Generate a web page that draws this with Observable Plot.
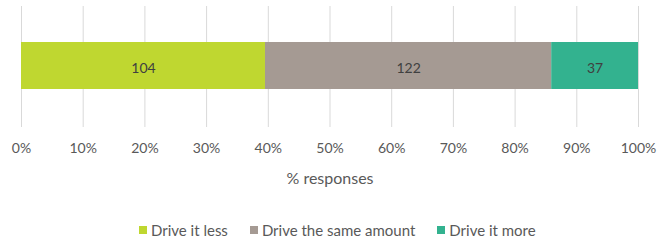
<!DOCTYPE html>
<html>
<head>
<meta charset="utf-8">
<script src="https://cdn.jsdelivr.net/npm/d3@7"></script>
<script src="https://cdn.jsdelivr.net/npm/@observablehq/plot@0.6"></script>
<style>
  html, body { margin: 0; padding: 0; background: #fff; }
  body { width: 659px; height: 242px; overflow: hidden; font-family: Lato, "Noto Sans", sans-serif; }
  #chart svg { display: block; }
  #legend { display: flex; align-items: center; height: 20px; margin-top: 20px; padding-left: 139px; color: #595959; font-size: 15px; }
  .item { display: flex; align-items: center; margin-right: 22px; }
  .sw { width: 8px; height: 8px; margin-right: 4px; }
</style>
</head>
<body>
<div id="chart"></div>
<div id="legend"></div>
<script>
const categories = ["Drive it less", "Drive the same amount", "Drive it more"];
const counts = [104, 122, 37];
const colors = ["#bfd730", "#a59a93", "#33b28f"];
const tickValues = [0, 0.1, 0.2, 0.3, 0.4, 0.5, 0.6, 0.7, 0.8, 0.9, 1.0];
const axisTitle = "% responses";

const data = categories.map((c, i) => ({category: c, value: counts[i], row: "all"}));

const chart = Plot.plot({
  width: 659,
  height: 200,
  marginLeft: 21,
  marginRight: 21,
  marginTop: 6,
  marginBottom: 73,
  style: {fontFamily: "Lato, 'Noto Sans', sans-serif", fontSize: "14px", color: "#595959", background: "#fff"},
  x: {domain: [0, 1], axis: null},
  y: {axis: null, padding: 0},
  color: {domain: categories, range: colors},
  marks: [
    Plot.ruleX(tickValues, {stroke: "#d9d9d9", strokeWidth: 1}),
    Plot.barX(data, Plot.stackX({x: "value", y: "row", fill: "category", offset: "normalize", order: null, insetTop: 36, insetBottom: 38})),
    Plot.text(data, Plot.stackX({x: "value", y: "row", text: "value", offset: "normalize", order: null, fill: "#404040", fontSize: 14, dy: 2})),
    Plot.axisX(tickValues, {tickSize: 0, tickPadding: 16, tickFormat: d3.format(".0%"), fontSize: 14, fill: "#595959", label: null}),
    Plot.text([axisTitle], {frameAnchor: "bottom", dy: 51, lineAnchor: "middle", fill: "#595959", fontSize: 16})
  ]
});
document.getElementById("chart").appendChild(chart);

const legend = document.getElementById("legend");
categories.forEach((c, i) => {
  const item = document.createElement("div");
  item.className = "item";
  const sw = document.createElement("div");
  sw.className = "sw";
  sw.style.background = colors[i];
  const label = document.createElement("span");
  label.textContent = c;
  item.appendChild(sw);
  item.appendChild(label);
  legend.appendChild(item);
});
</script>
</body>
</html>
